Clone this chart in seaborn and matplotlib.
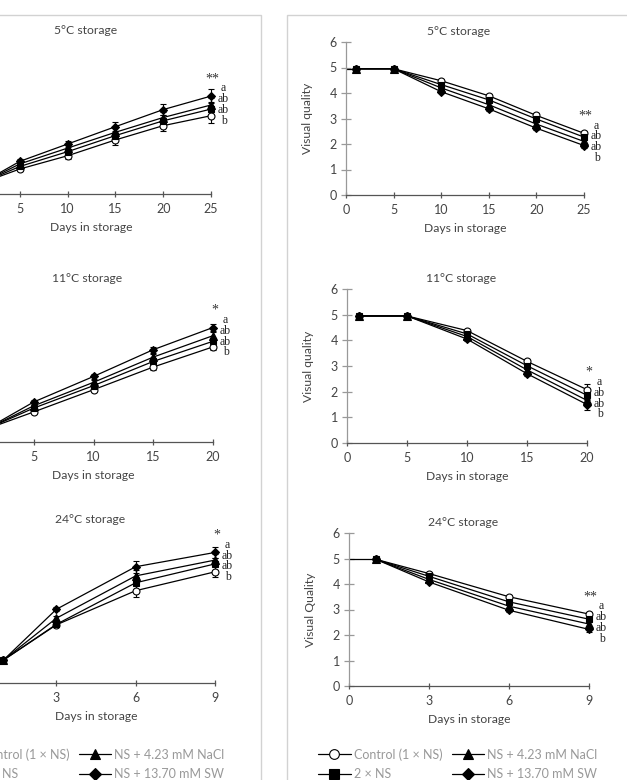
# storage trials: left column (y axis cropped) and visual quality (right column)

import seaborn as sns
import matplotlib.pyplot as plt
from matplotlib.lines import Line2D
from matplotlib.patches import Rectangle

treatments = ['Control (1 × NS)', '2 × NS', 'NS + 4.23 mM NaCl', 'NS + 13.70 mM SW']
markers = ['o', 's', '^', 'D']
letters = ['a', 'ab', 'ab', 'b']

days_5 = [1, 5, 10, 15, 20, 25]
days_11 = [1, 5, 10, 15, 20]
days_24 = [1, 3, 6, 9]

# left column, values (axis labels are cut off)
left_5 = {
    'Control (1 × NS)': [0.43, 0.98, 1.50, 2.12, 2.68, 3.07],
    '2 × NS': [0.43, 1.08, 1.66, 2.29, 2.87, 3.33],
    'NS + 4.23 mM NaCl': [0.43, 1.18, 1.80, 2.42, 3.00, 3.49],
    'NS + 13.70 mM SW': [0.43, 1.28, 1.96, 2.64, 3.31, 3.84],
}
left_11 = {
    'Control (1 × NS)': [0.5, 1.18, 2.05, 2.94, 3.73],
    '2 × NS': [0.5, 1.33, 2.21, 3.16, 3.95],
    'NS + 4.23 mM NaCl': [0.5, 1.42, 2.34, 3.33, 4.17],
    'NS + 13.70 mM SW': [0.5, 1.57, 2.57, 3.62, 4.49],
}
left_24 = {
    'Control (1 × NS)': [0.9, 2.28, 3.62, 4.36],
    '2 × NS': [0.9, 2.30, 3.93, 4.67],
    'NS + 4.23 mM NaCl': [0.9, 2.54, 4.20, 4.82],
    'NS + 13.70 mM SW': [0.9, 2.89, 4.56, 5.12],
}
left_err_5 = [0, 0.08, 0.12, 0.20, 0.22, 0.28]
left_err_11 = [0, 0.06, 0.08, 0.12, 0.14]
left_err_24 = [0, 0.08, 0.24, 0.22]

# right column: visual quality
vq_5 = {
    'Control (1 × NS)': [4.95, 4.95, 4.48, 3.89, 3.12, 2.42],
    '2 × NS': [4.95, 4.95, 4.33, 3.73, 2.98, 2.27],
    'NS + 4.23 mM NaCl': [4.95, 4.95, 4.20, 3.54, 2.78, 2.10],
    'NS + 13.70 mM SW': [4.95, 4.95, 4.05, 3.38, 2.62, 1.94],
}
vq_11 = {
    'Control (1 × NS)': [4.95, 4.95, 4.38, 3.18, 2.08],
    '2 × NS': [4.95, 4.95, 4.25, 3.01, 1.86],
    'NS + 4.23 mM NaCl': [4.95, 4.95, 4.15, 2.85, 1.66],
    'NS + 13.70 mM SW': [4.95, 4.95, 4.05, 2.70, 1.50],
}
vq_24 = {
    'Control (1 × NS)': [4.97, 4.41, 3.50, 2.82],
    '2 × NS': [4.97, 4.30, 3.30, 2.62],
    'NS + 4.23 mM NaCl': [4.97, 4.18, 3.13, 2.43],
    'NS + 13.70 mM SW': [4.97, 4.08, 2.97, 2.22],
}
vq_err_5 = [0.03, 0.03, 0.06, 0.07, 0.08, 0.10]
vq_err_11 = [0.03, 0.03, 0.06, 0.08, 0.20]
vq_err_24 = [0.03, 0.05, 0.07, 0.10]

W, H = 627, 780
TEXT = '#444444'


def rect(l, r, t, b):
    return [l / W, 1 - b / H, (r - l) / W, (b - t) / H]


def draw_panel(ax, days, values, errors, title, stars, ylabel='', lead_in=False, cropped=False):
    sizes = {'o': 5, 's': 4.6, '^': 5.4, 'D': 4.4}
    for name, m in zip(treatments, markers):
        ax.errorbar(days, values[name], yerr=errors, fmt='none', ecolor='black',
                    elinewidth=0.8, capsize=2, capthick=0.8, clip_on=False, zorder=2)
        sns.lineplot(x=days, y=values[name], ax=ax, color='black', lw=0.9,
                     marker=m, markersize=sizes[m],
                     markerfacecolor='white' if m == 'o' else 'black',
                     markeredgecolor='black', markeredgewidth=0.8,
                     clip_on=False, zorder=3)
    if lead_in:
        start = values[treatments[0]][0]
        ax.plot([0, days[0]], [start, start], color='black', lw=0.9, zorder=2)

    last = days[-1]
    top = max(values[n][-1] for n in treatments)
    ax.annotate(stars, xy=(last, top), xytext=(1, 12.5), textcoords='offset points',
                ha='center', va='center', fontsize=10, family='Liberation Serif',
                color='#333333')
    for letter, dy in zip(letters, [5.5, -2.3, -10.1, -17.9]):
        ax.annotate(letter, xy=(last, top), xytext=(9, dy), textcoords='offset points',
                    ha='center', va='center', fontsize=8.5, family='Liberation Serif',
                    color='#222222')

    ax.set_xlim(0, last)
    ax.set_ylim(0, 6)
    step = 3 if last == 9 else 5
    ax.set_xticks(range(step if cropped else 0, last + 1, step))
    ax.set_yticks(range(0, 7))
    ax.text(0.475, 1.07, title, transform=ax.transAxes, ha='center', va='center',
            fontsize=8.7, color=TEXT)
    ax.set_xlabel('Days in storage', fontsize=8.7, color=TEXT, labelpad=5)
    ax.set_ylabel(ylabel, fontsize=8.7, color=TEXT, labelpad=12)
    sns.despine(ax=ax)
    ax.spines['bottom'].set_color('#555555')
    ax.spines['left'].set_color('#999999')
    ax.spines['bottom'].set_linewidth(0.9)
    ax.spines['left'].set_linewidth(0.9)
    ax.tick_params(axis='x', direction='inout', length=5, width=0.9, color='#555555',
                   labelsize=9, labelcolor=TEXT, pad=4)
    ax.tick_params(axis='y', direction='inout', length=7, width=0.9, color='#999999',
                   labelsize=9, labelcolor=TEXT, pad=3, labelleft=not cropped)
    ax.patch.set_alpha(0)


def add_legend(fig, x_px):
    handles = [Line2D([], [], color='black', lw=0.9, marker=m, markersize=7 if m != 'D' else 6,
                      markerfacecolor='white' if m == 'o' else 'black',
                      markeredgecolor='black', markeredgewidth=0.8) for m in markers]
    fig.legend(handles, treatments, ncol=2, loc='upper left',
               bbox_to_anchor=(x_px / W, 1 - 748 / H), frameon=False, fontsize=9,
               handlelength=2.6, handletextpad=0.25, columnspacing=0.75,
               labelspacing=0.6, borderpad=0, borderaxespad=0, labelcolor='#999999')


def main():
    sns.set_style('ticks')
    plt.rcParams['font.family'] = ['Lato', 'DejaVu Sans']

    fig = plt.figure(figsize=(W / 100, H / 100), dpi=100)

    # panel frames
    for l, r in [(-50, 261), (287, 700)]:
        fig.add_artist(Rectangle((l / W, 1 - 800 / H), (r - l) / W, 785 / H,
                                 transform=fig.transFigure, fill=False,
                                 ec='#d2d2d2', lw=1.0))

    ax = fig.add_axes(rect(-28, 211, 41, 194))
    draw_panel(ax, days_5, left_5, left_err_5, '5°C storage', '**', cropped=True)
    ax = fig.add_axes(rect(-26, 213, 289, 442))
    draw_panel(ax, days_11, left_11, left_err_11, '11°C storage', '*', cropped=True)
    ax = fig.add_axes(rect(-23, 215, 530, 683))
    draw_panel(ax, days_24, left_24, left_err_24, '24°C storage', '*', cropped=True)

    ax = fig.add_axes(rect(346, 584, 42, 195))
    draw_panel(ax, days_5, vq_5, vq_err_5, '5°C storage', '**', 'Visual quality', lead_in=True)
    ax = fig.add_axes(rect(347, 587, 289, 443))
    draw_panel(ax, days_11, vq_11, vq_err_11, '11°C storage', '*', 'Visual quality')
    ax = fig.add_axes(rect(349, 589, 533, 686))
    draw_panel(ax, days_24, vq_24, vq_err_24, '24°C storage', '**', 'Visual Quality', lead_in=True)

    add_legend(fig, 318 - 373)
    add_legend(fig, 318)

    fig.savefig('out.png', dpi=100)


if __name__ == '__main__':
    main()
